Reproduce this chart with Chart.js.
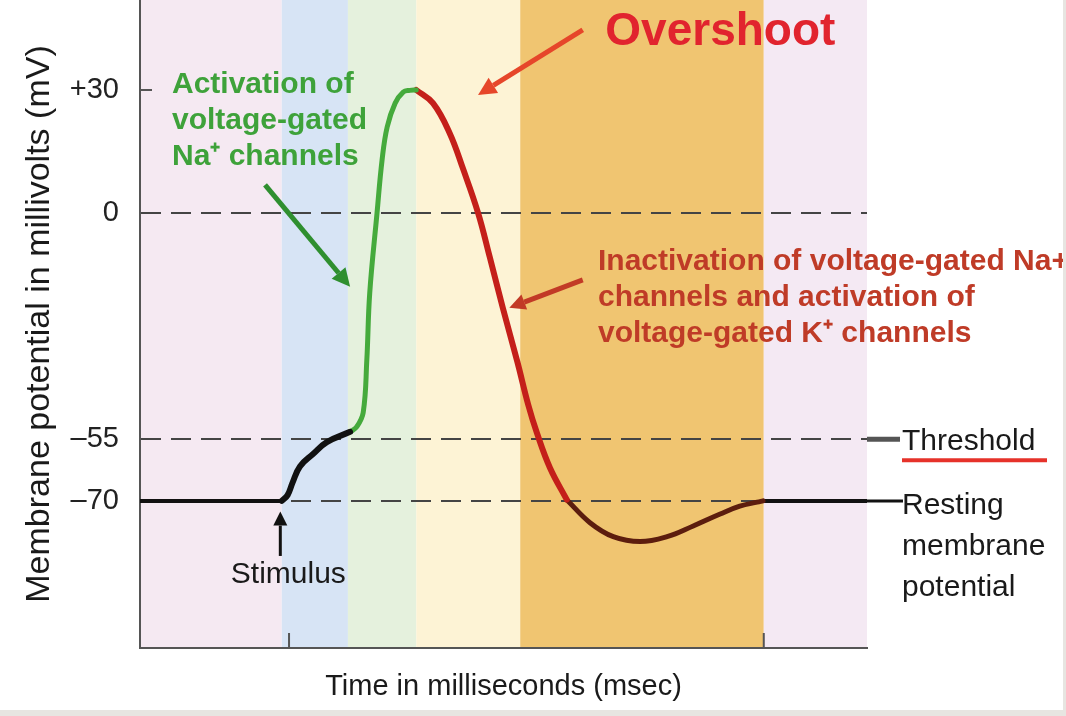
<!DOCTYPE html>
<html>
<head>
<meta charset="utf-8">
<script src="https://cdn.jsdelivr.net/npm/chart.js@4.4.1/dist/chart.umd.min.js"></script>
<style>
  html, body { margin: 0; padding: 0; background: #fff; }
  canvas { display: block; }
</style>
</head>
<body>
<canvas id="actionPotential" width="1066" height="716"></canvas>
<script>
//
// Data: time in ms, membrane potential in mV, one pair of arrays per phase
var restStartT = [0.00, 1.95];
var restStartV = [-70, -70];
var stimulusT = [1.95, 2.03, 2.10, 2.20, 2.38, 2.57, 2.89];
var stimulusV = [-70, -68.6, -65.5, -61.6, -58.6, -55.7, -53.2];
var risingT = [2.89, 2.98, 3.07, 3.12, 3.16, 3.26, 3.33, 3.40, 3.51, 3.62, 3.71, 3.80];
var risingV = [-53.2, -52.0, -48.5, -35.7, -19.4, 0, 13.0, 21.0, 26.8, 29.5, 29.9, 30];
var fallingT = [3.80, 4.03, 4.26, 4.44, 4.65, 4.81, 4.99, 5.19, 5.34, 5.46, 5.64, 5.87];
var fallingV = [30, 26.8, 19.5, 11.0, 0.1, -10.6, -23.0, -36.1, -46.6, -53.5, -62.0, -69.7];
var undershootT = [5.87, 6.19, 6.51, 6.88, 7.25, 7.61, 7.98, 8.25, 8.49, 8.57];
var undershootV = [-69.7, -75.3, -78.7, -79.9, -78.7, -76.1, -73.2, -71.3, -70.3, -70];
var restEndT = [8.57, 10.00];
var restEndV = [-70, -70];

var yTicks = [-70, -55, 0, 30];
var yTickLabels = ['\u201370', '\u201355', '0', '+30'];

// coloured phase bands (ms)
var bandEdges = [0, 1.95, 2.86, 3.80, 5.23, 8.58, 10];
var bandColors = ['#f5e9f2', '#d7e4f5', '#e5f1dd', '#fdf3d5', '#f0c571', '#f4e9f3'];
var axisMarks = [2.05, 8.58];

var FONT = '"Liberation Sans", Arial, Helvetica, sans-serif';

function pts(ts, vs) {
    return ts.map(function(t, i) { return {x: t, y: vs[i]}; });
}

function arrow(ctx, x1, y1, x2, y2, color, width, head) {
    var a = Math.atan2(y2 - y1, x2 - x1);
    var bx = x2 - Math.cos(a) * head, by = y2 - Math.sin(a) * head;
    ctx.save();
    ctx.strokeStyle = color;
    ctx.fillStyle = color;
    ctx.lineWidth = width;
    ctx.beginPath();
    ctx.moveTo(x1, y1);
    ctx.lineTo(bx, by);
    ctx.stroke();
    ctx.beginPath();
    ctx.moveTo(x2, y2);
    ctx.lineTo(bx + Math.sin(a) * head * 0.5, by - Math.cos(a) * head * 0.5);
    ctx.lineTo(bx - Math.sin(a) * head * 0.5, by + Math.cos(a) * head * 0.5);
    ctx.closePath();
    ctx.fill();
    ctx.restore();
}

function lines(ctx, list, x, y, step) {
    list.forEach(function(s, i) { ctx.fillText(s, x, y + i * step); });
}

//
// Background bands
var bandsPlugin = {
    id: 'bands',
    beforeDraw: function(chart) {
        var ctx = chart.ctx, area = chart.chartArea, xs = chart.scales.x;
        ctx.save();
        ctx.fillStyle = '#ffffff';
        ctx.fillRect(0, 0, chart.width, chart.height);
        for (var i = 0; i < bandColors.length; i++) {
            var x1 = xs.getPixelForValue(bandEdges[i]);
            var x2 = xs.getPixelForValue(bandEdges[i + 1]);
            ctx.fillStyle = bandColors[i];
            ctx.fillRect(x1, area.top, x2 - x1, area.bottom - area.top);
        }
        ctx.restore();
    }
};

//
// Labels, arrows and side notes
var notesPlugin = {
    id: 'notes',
    afterDraw: function(chart) {
        var ctx = chart.ctx, area = chart.chartArea;
        var xs = chart.scales.x, ys = chart.scales.y;
        function X(t) { return xs.getPixelForValue(t); }
        function Y(v) { return ys.getPixelForValue(v); }

        ctx.save();
        // small axis ticks
        ctx.strokeStyle = '#555';
        ctx.lineWidth = 2;
        ctx.beginPath();
        ctx.moveTo(area.left, Y(30));
        ctx.lineTo(area.left + 12, Y(30));
        axisMarks.forEach(function(t) {
            ctx.moveTo(X(t), area.bottom);
            ctx.lineTo(X(t), area.bottom - 15);
        });
        ctx.stroke();

        ctx.textBaseline = 'middle';
        ctx.textAlign = 'left';

        // activation
        ctx.fillStyle = '#3ea23a';
        ctx.font = 'bold 30px ' + FONT;
        lines(ctx, ['Activation of', 'voltage-gated', 'Na\u207A channels'], X(0.44), Y(31.2), 36);
        arrow(ctx, X(1.72), Y(6.9), X(2.89), Y(-17.9), '#2f8f2f', 5, 18);

        // overshoot
        ctx.fillStyle = '#e1242e';
        ctx.font = 'bold 46px ' + FONT;
        ctx.fillText('Overshoot', X(6.40), Y(44.0));
        arrow(ctx, X(6.09), Y(44.6), X(4.65), Y(28.8), '#e6462a', 5, 18);

        // inactivation
        ctx.fillStyle = '#bf3b27';
        ctx.font = 'bold 30px ' + FONT;
        lines(ctx, ['Inactivation of voltage-gated Na+', 'channels and activation of',
            'voltage-gated K\u207A channels'], X(6.30), Y(-11.9), 36);
        arrow(ctx, X(6.09), Y(-16.2), X(5.08), Y(-23.0), '#c23a26', 5, 16);

        // stimulus
        ctx.fillStyle = '#1a1a1a';
        ctx.font = '30px ' + FONT;
        ctx.textAlign = 'center';
        ctx.fillText('Stimulus', X(2.04), Y(-88));
        arrow(ctx, X(1.93), Y(-83.4), X(1.93), Y(-72.6), '#111', 3, 14);

        // threshold + resting labels on the right
        var rx = area.right;
        ctx.textAlign = 'left';
        ctx.strokeStyle = '#555';
        ctx.lineWidth = 5;
        ctx.beginPath();
        ctx.moveTo(rx, Y(-55));
        ctx.lineTo(rx + 33, Y(-55));
        ctx.stroke();
        ctx.fillText('Threshold', rx + 35, Y(-55) + 2);
        ctx.strokeStyle = '#e6322a';
        ctx.lineWidth = 4;
        ctx.beginPath();
        ctx.moveTo(rx + 35, Y(-55) + 21);
        ctx.lineTo(rx + 180, Y(-55) + 21);
        ctx.stroke();

        ctx.strokeStyle = '#111';
        ctx.lineWidth = 3;
        ctx.beginPath();
        ctx.moveTo(rx, Y(-70));
        ctx.lineTo(rx + 36, Y(-70));
        ctx.stroke();
        lines(ctx, ['Resting', 'membrane', 'potential'], rx + 35, Y(-70) + 5, 41);

        // picture frame
        ctx.fillStyle = '#e7e5e1';
        ctx.fillRect(0, chart.height - 6, chart.width, 6);
        ctx.fillRect(chart.width - 3, 0, 3, chart.height);
        ctx.restore();
    }
};

//
// Draw Chart
var ctx = document.getElementById('actionPotential').getContext('2d');
new Chart(ctx, {
    type: 'line',
    data: {
        datasets: [
            {data: pts(restStartT, restStartV), borderColor: '#111', borderWidth: 4},
            {data: pts(stimulusT, stimulusV), borderColor: '#111', borderWidth: 6},
            {data: pts(risingT, risingV), borderColor: '#45aa3c', borderWidth: 5},
            {data: pts(fallingT, fallingV), borderColor: '#c41f1a', borderWidth: 6},
            {data: pts(undershootT, undershootV), borderColor: '#5c1d0e', borderWidth: 5},
            {data: pts(restEndT, restEndV), borderColor: '#111', borderWidth: 4}
        ]
    },
    options: {
        responsive: false,
        animation: false,
        layout: {padding: {left: 0, top: 0, right: 199, bottom: 0}},
        plugins: {
            legend: {display: false},
            tooltip: {enabled: false}
        },
        elements: {
            point: {radius: 0},
            line: {
                tension: 0.4,
                borderCapStyle: 'round',
                borderJoinStyle: 'round'
            }
        },
        scales: {
            x: {
                type: 'linear',
                min: 0,
                max: 10,
                ticks: {display: false},
                grid: {display: false},
                border: {color: '#555', width: 2},
                title: {
                    display: true,
                    text: 'Time in milliseconds (msec)',
                    color: '#1a1a1a',
                    font: {family: FONT, size: 29},
                    padding: {top: 0, bottom: 12}
                },
                afterFit: function(s) {
                    s.height = 68;
                    s.paddingLeft = 0;
                    s.paddingRight = 0;
                }
            },
            y: {
                type: 'linear',
                min: -105.8,
                max: 51.9,
                afterBuildTicks: function(s) {
                    s.ticks = yTicks.map(function(v) { return {value: v}; });
                },
                ticks: {
                    autoSkip: false,
                    padding: 21,
                    color: '#222',
                    font: {family: FONT, size: 29},
                    callback: function(v) { return yTickLabels[yTicks.indexOf(v)]; }
                },
                grid: {
                    drawTicks: false,
                    lineWidth: 2,
                    color: function(c) {
                        return c.tick && c.tick.value === 30 ? 'rgba(0,0,0,0)' : '#444';
                    }
                },
                border: {color: '#555', width: 2, dash: [20, 10]},
                title: {
                    display: true,
                    text: 'Membrane potential in millivolts (mV)',
                    color: '#1a1a1a',
                    font: {family: FONT, size: 34},
                    padding: {top: 19, bottom: 0}
                },
                afterFit: function(s) {
                    s.width = 140;
                    s.paddingTop = 0;
                    s.paddingBottom = 0;
                }
            }
        }
    },
    plugins: [bandsPlugin, notesPlugin]
});
</script>
</body>
</html>
